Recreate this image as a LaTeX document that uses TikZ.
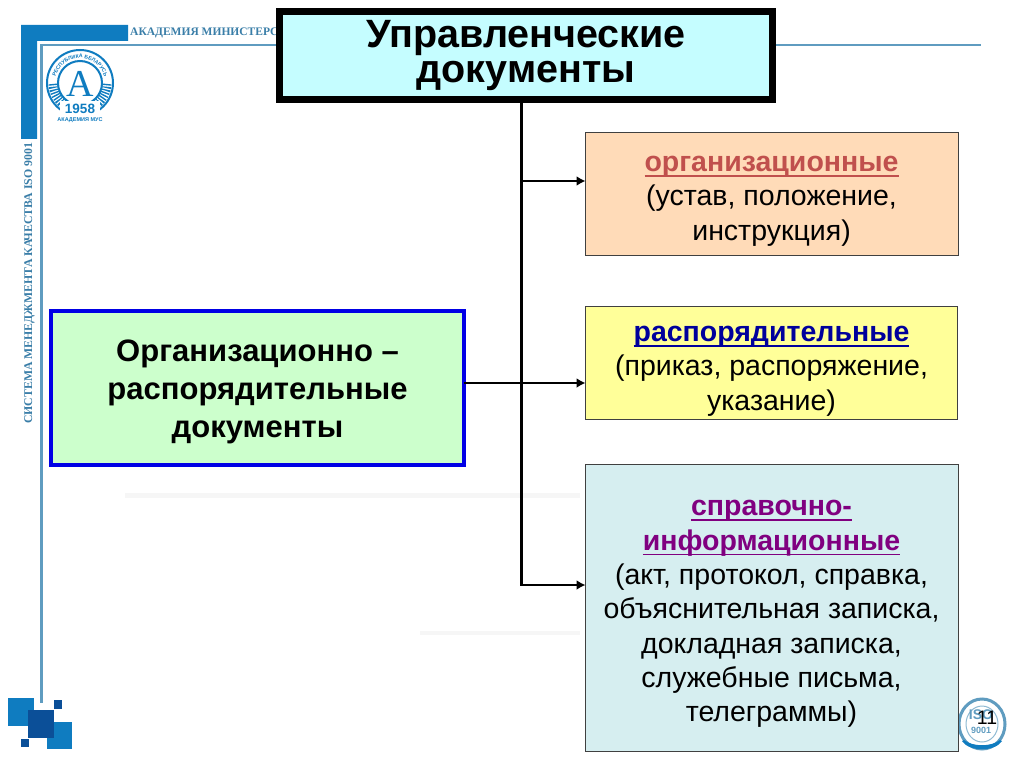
\documentclass[tikz,border=0pt]{standalone}
\usepackage{fontspec}
\setmainfont{Liberation Sans}
\newfontfamily\serifcyr{Liberation Serif}
\usetikzlibrary{arrows.meta,decorations.text}
\definecolor{brandblue}{HTML}{0F7CC0}
\definecolor{branddark}{HTML}{0B4F98}
\definecolor{linegrey}{HTML}{5F9CC0}
\definecolor{textblue}{HTML}{3A7EA8}
\definecolor{ghost}{HTML}{F6F6F6}
\definecolor{titlefill}{HTML}{C5FDFF}
\definecolor{orgfill}{HTML}{CCFFCC}
\definecolor{peachfill}{HTML}{FFDBB8}
\definecolor{yellowfill}{HTML}{FFFF99}
\definecolor{palefill}{HTML}{D6EEF0}
\newsavebox{\ulbox}
\newcommand{\barunder}[1]{\sbox{\ulbox}{#1}\rlap{\rule[-5.2pt]{\wd\ulbox}{1.7pt}}\usebox{\ulbox}}
\tikzset{
 x=1pt,y=-1pt,
 boxbase/.style={anchor=north west,align=center,inner sep=0pt,outer sep=0pt,text=black},
 infobox/.style={boxbase,draw=black!75,line width=1pt},
 bodytext/.style={align=center,inner sep=0pt,font=\fontsize{28.5}{34.3}\selectfont},
 conn/.style={line width=3pt,draw=black},
 branchconn/.style={line width=2.6pt,draw=black,-{Latex[length=9pt,width=10pt]}},
 brandsq/.style={fill=brandblue,draw=none},
 darksq/.style={fill=branddark,draw=none},
 logobars/.style={brandblue,line width=9pt,dash pattern=on 1.4pt off 1.4pt},
}
\begin{document}
\begin{tikzpicture}
\useasboundingbox (0,0) rectangle (1024,767);
\fill[white] (0,0) rectangle (1024,767);
% ghost smudges
\fill[ghost] (125,493) rectangle (580,498);
\fill[ghost] (420,631) rectangle (580,635);
% frame
\fill[brandblue] (21,25) -- (128,25) -- (128,41) -- (37,41) -- (37,139) -- (21,139) -- cycle;
\fill[linegrey] (40,44) rectangle (43,703);
\fill[linegrey] (40,44) rectangle (981,46.5);
\node[text=textblue,anchor=west,inner sep=0pt] (academy) at (130,33)
  {\serifcyr\bfseries\fontsize{11.5}{12}\selectfont АКАДЕМИЯ МИНИСТЕРС};
\node[text=textblue,rotate=90,anchor=west,inner sep=0pt] (qms) at (29.5,424)
  {\serifcyr\bfseries\fontsize{11.8}{13}\selectfont СИСТЕМА МЕНЕДЖМЕНТА КАЧЕСТВА ISO 9001};
% logo
\coordinate (logoC) at (80,83);
\draw[brandblue,line width=2pt] (logoC) circle[radius=33];
\draw[brandblue,line width=2pt] (logoC) circle[radius=22];
\draw[logobars] ([shift={(178:27)}]logoC) arc[start angle=178,end angle=120,radius=27];
\draw[logobars] ([shift={(2:27)}]logoC) arc[start angle=2,end angle=60,radius=27];
\path[decorate,decoration={text along path,text align=center,text={|\fontsize{5.2}{6}\selectfont\bfseries\color{brandblue}|РЕСПУБЛИКА БЕЛАРУСЬ}}]
  ([shift={(185:25)}]logoC) arc[start angle=185,end angle=355,radius=25];
\fill[white] (60,101) rectangle (100,125);
\node[text=brandblue,inner sep=0pt] (logoA) at (80,84) {\serifcyr\fontsize{38}{38}\selectfont A};
\node[text=brandblue,inner sep=0pt] (logoY) at (80,109) {\bfseries\fontsize{13.5}{14}\selectfont 1958};
\node[text=brandblue,inner sep=0pt] (logoN) at (80,120) {\bfseries\fontsize{5.5}{6}\selectfont АКАДЕМИЯ МУС};
% corner squares
\fill[brandsq] (8,698) rectangle (34,726);
\fill[brandsq] (47,722) rectangle (72,749);
\fill[darksq] (28,710) rectangle (54,738);
\fill[darksq] (54,700) rectangle (62,709);
\fill[darksq] (21,739) rectangle (29,747);
% seal
\coordinate (sealC) at (982,724);
\draw[linegrey,line width=3pt] (sealC) ellipse[x radius=23,y radius=25];
\draw[linegrey!70,line width=1pt] (sealC) ellipse[x radius=16,y radius=18];
\fill[brandblue] (964,740) .. controls (973,747) and (991,747) .. (1000,740) -- (1002,741) .. controls (995,752) and (969,752) .. (962,741) -- cycle;
\node[text=linegrey,inner sep=0pt] (sealT) at (981,715) {\bfseries\fontsize{14}{14}\selectfont ISO};
\node[text=linegrey,inner sep=0pt] (sealB) at (981,730) {\bfseries\fontsize{9}{10}\selectfont 9001};
\node[inner sep=0pt] (pagenum) at (987,718) {\fontsize{19.5}{20}\selectfont 11};
% boxes
\node[boxbase,draw=black,fill=titlefill,line width=7pt,minimum width=493pt,minimum height=88pt] (title) at (279.5,11.5) {};
\node[align=center,inner sep=0pt,font=\bfseries\fontsize{39.5}{35}\selectfont] (titleT) at (526,56) {Управленческие\\документы};
\node[boxbase,draw=blue!90!black,fill=orgfill,line width=4pt,minimum width=413pt,minimum height=154pt] (org) at (51,311) {};
\node[align=center,inner sep=0pt,font=\bfseries\fontsize{31}{38}\selectfont] (orgT) at (257.5,392) {Организационно –\\распорядительные\\документы};
\node[infobox,fill=peachfill,minimum width=373pt,minimum height=123pt] (b1) at (585.5,132.5) {};
\node[bodytext] (b1T) at (771.5,201) {\textcolor[HTML]{C0504D}{\bfseries\barunder{организационные}}\\(устав, положение,\\инструкция)};
\node[infobox,fill=yellowfill,minimum width=372pt,minimum height=113pt] (b2) at (585.5,306.5) {};
\node[bodytext] (b2T) at (771.5,371) {\textcolor[HTML]{00009C}{\bfseries\barunder{распорядительные}}\\(приказ, распоряжение,\\указание)};
\node[infobox,fill=palefill,minimum width=373pt,minimum height=287pt] (b3) at (585.5,464.5) {};
\node[bodytext] (b3T) at (771.5,614) {\textcolor[HTML]{800080}{\bfseries\barunder{справочно-}}\\\textcolor[HTML]{800080}{\bfseries\barunder{информационные}}\\(акт, протокол, справка,\\объяснительная записка,\\докладная записка,\\служебные письма,\\телеграммы)};
% connectors
\coordinate (trunkTop) at ([xshift=-5pt]title.south);
\coordinate (j1) at (trunkTop |- 0,181);
\coordinate (j2) at (trunkTop |- 0,383);
\coordinate (j3) at (trunkTop |- 0,585);
\draw[conn] (trunkTop) -- ([yshift=-1.3pt]j3);
\draw[branchconn] (j1) -- (b1.west |- j1);
\draw[branchconn] (org.east |- j2) -- (b2.west |- j2);
\draw[branchconn] (j3) -- (b3.west |- j3);
\end{tikzpicture}
\end{document}
